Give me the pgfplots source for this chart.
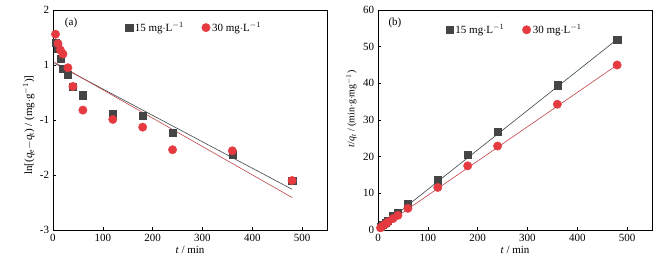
\documentclass[border=0pt]{standalone}
\usepackage{fontspec}
\setmainfont{Liberation Serif}
\usepackage{pgfplots}
\pgfplotsset{compat=1.18}
\definecolor{sqgray}{HTML}{454545}
\definecolor{cired}{HTML}{E53A40}
\definecolor{lngray}{HTML}{3A4646}
\definecolor{lnred}{HTML}{C04448}
\begin{document}
\fontsize{11}{13}\selectfont
\begin{tikzpicture}
\useasboundingbox (0pt,0pt) rectangle (670pt,265pt);
\pgfplotsset{
  every axis/.append style={
    scale only axis, width=274pt, height=220pt,
    xmin=0, xmax=550, xtick={0,100,...,500},
    /pgf/number format/assume math mode=true,
    tick label style={font=\fontsize{11}{13}\selectfont},
    label style={font=\fontsize{11}{13}\selectfont},
    tick style={black, line width=0.5pt},
    major tick length=3pt,
    xtick pos=bottom, ytick pos=left,
    axis line style={line width=0.6pt},
    xlabel={\textit{t} / min},
    xlabel style={yshift=3pt},
    legend columns=2,
    legend cell align=left,
    legend style={draw=none, fill=none, font=\fontsize{11}{13}\selectfont,
      /tikz/every even column/.append style={column sep=16pt}},
  },
}
% (a)
\begin{axis}[at={(53pt,35pt)}, anchor=south west,
  ymin=-2, ymax=2, ytick={-2,-1,0,1,2}, yticklabels={-3,-2,-1,1,2},
  ylabel={ln[(\textit{q}\textsubscript{e}$-$\textit{q}\textsubscript{t}) / (mg$\cdot$g\textsuperscript{$-1$})]},
  ylabel style={at={(ticklabel cs:0.477)}, yshift=-2pt},
  legend style={at={(0.516,0.92)}, anchor=center}]
\addplot[lngray, line width=0.6pt, forget plot] coordinates {(3,1.03) (480,-1.26)};
\addplot[lnred, line width=0.6pt, forget plot] coordinates {(3,1.05) (480,-1.41)};
\addplot[only marks, mark=square*, mark size=3.6pt, color=sqgray] coordinates {
(5,1.40) (10,1.30) (15,1.12) (20,0.94) (30,0.82) (40,0.60) (60,0.45) (120,0.11) (180,0.08) (240,-0.23) (360,-0.62) (480,-1.10)};
\addlegendentry{15 mg$\cdot$L\textsuperscript{$-1$}}
\addplot[only marks, mark=*, mark size=4.2pt, color=cired] coordinates {
(5,1.56) (10,1.39) (15,1.27) (20,1.20) (30,0.95) (40,0.61) (60,0.18) (120,0.01) (180,-0.13) (240,-0.54) (360,-0.56) (480,-1.10)};
\addlegendentry{30 mg$\cdot$L\textsuperscript{$-1$}}
\node at (rel axis cs:0.066,0.94) {(a)};
\end{axis}
% (b)
\begin{axis}[at={(378pt,35pt)}, anchor=south west,
  ymin=0, ymax=60, ytick={0,10,...,60},
  ylabel={\textit{t}/\textit{q}\textsubscript{\textit{t}} / (min$\cdot$g$\cdot$mg\textsuperscript{$-1$})},
  ylabel style={at={(ticklabel cs:0.55)}, font=\fontsize{10}{12}\selectfont, yshift=-1pt},
  legend style={at={(0.50,0.91)}, anchor=center}]
\addplot[lngray, line width=0.6pt, forget plot] coordinates {(0,0.3) (480,52.0)};
\addplot[lnred, line width=0.6pt, forget plot] coordinates {(0,0.1) (480,45.0)};
\addplot[only marks, mark=square*, mark size=3.6pt, color=sqgray] coordinates {
(5,0.8) (10,1.4) (15,2.0) (20,2.6) (30,3.8) (40,4.8) (60,7.1) (120,13.6) (180,20.45) (240,26.8) (360,39.5) (480,52.0)};
\addlegendentry{15 mg$\cdot$L\textsuperscript{$-1$}}
\addplot[only marks, mark=*, mark size=4.2pt, color=cired] coordinates {
(5,0.6) (10,1.2) (15,1.6) (20,2.2) (30,3.1) (40,4.0) (60,5.9) (120,11.6) (180,17.5) (240,22.9) (360,34.3) (480,45.0)};
\addlegendentry{30 mg$\cdot$L\textsuperscript{$-1$}}
\node at (rel axis cs:0.062,0.94) {(b)};
\end{axis}
\end{tikzpicture}
\end{document}
